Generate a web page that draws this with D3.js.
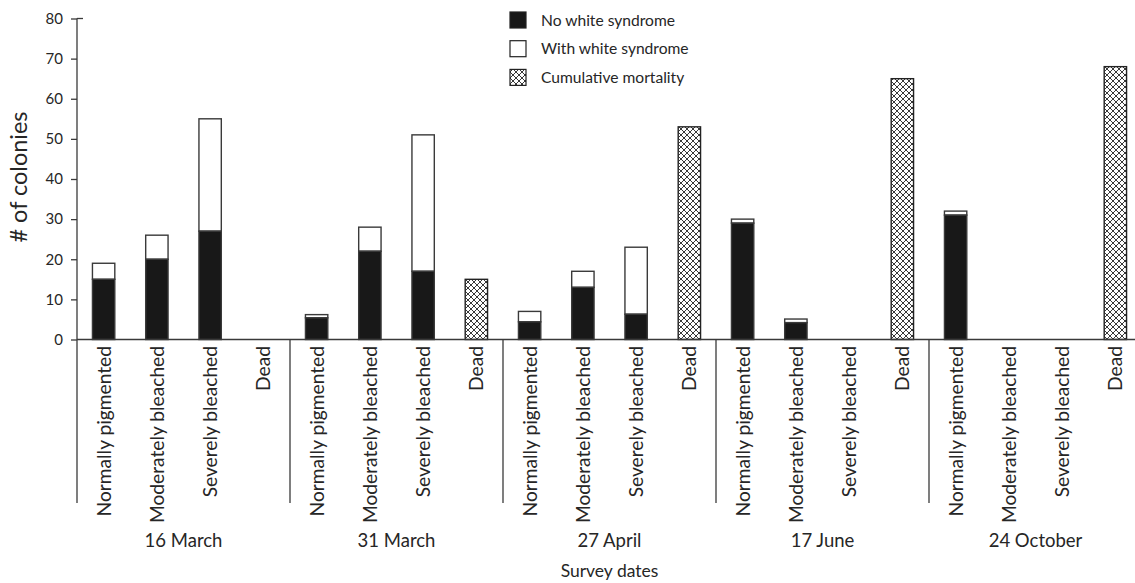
<!DOCTYPE html>
<html><head><meta charset="utf-8">
<script src="https://cdn.jsdelivr.net/npm/d3@7/dist/d3.min.js"></script>
<style>
html,body{margin:0;padding:0;background:#fff;}
svg{display:block;font-family:Lato,"Open Sans",sans-serif;}
</style></head>
<body>
<svg id="chart" width="1135" height="583"></svg>
<script>
const surveyDates = ["16 March", "31 March", "27 April", "17 June", "24 October"];
const conditions = ["Normally pigmented", "Moderately bleached", "Severely bleached", "Dead"];
// per survey date, per condition
const noWhiteSyndrome = [[15, 20, 27, 0], [5.4, 22, 17, 0], [4.4, 13, 6.3, 0], [29, 4.2, 0, 0], [31, 0, 0, 0]];
const withWhiteSyndrome = [[4, 6, 28, 0], [0.8, 6, 34, 0], [2.6, 4, 16.7, 0], [1, 0.9, 0, 0], [1, 0, 0, 0]];
const cumulativeMortality = [[0, 0, 0, 0], [0, 0, 0, 15], [0, 0, 0, 53], [0, 0, 0, 65], [0, 0, 0, 68]];
const yTicks = [0, 10, 20, 30, 40, 50, 60, 70, 80];
const legendLabels = ["No white syndrome", "With white syndrome", "Cumulative mortality"];

const svg = d3.select("#chart");
const ink = "#262626", lineCol = "#3a3a3a", barFill = "#181818";
const plotLeft = 77, groupW = 213, plotTop = 18.5, plotBase = 339.5;
const plotRight = plotLeft + groupW * surveyDates.length;

// pattern
const defs = svg.append("defs");
const pat = defs.append("pattern").attr("id", "xhatch").attr("patternUnits", "userSpaceOnUse")
  .attr("width", 6).attr("height", 6);
pat.append("rect").attr("width", 6).attr("height", 6).attr("fill", "#fff");
pat.append("path").attr("d", "M0,0L6,6M6,0L0,6").attr("stroke", "#222").attr("stroke-width", 0.9);

const x0 = d3.scaleBand().domain(surveyDates).range([plotLeft, plotRight]);
const x1 = d3.scaleBand().domain(conditions).range([0, groupW]).paddingInner(0.58).paddingOuter(0.29);
const y = d3.scaleLinear().domain([0, 80]).range([plotBase, plotTop]);

// rows
const rows = [];
surveyDates.forEach((d, i) => conditions.forEach((c, j) => rows.push({
  date: d, cond: c, no: noWhiteSyndrome[i][j], ws: withWhiteSyndrome[i][j], dead: cumulativeMortality[i][j]
})));

const g = svg.append("g");
// bars
rows.forEach(r => {
  const bx = x0(r.date) + x1(r.cond), bw = x1.bandwidth();
  if (r.no + r.ws > 0) {
    if (r.ws > 0) g.append("rect").attr("x", bx).attr("width", bw)
      .attr("y", y(r.no + r.ws)).attr("height", y(r.no) - y(r.no + r.ws))
      .attr("fill", "#fff").attr("stroke", lineCol).attr("stroke-width", 1.4);
    if (r.no > 0) g.append("rect").attr("x", bx).attr("width", bw)
      .attr("y", y(r.no)).attr("height", y(0) - y(r.no))
      .attr("fill", barFill).attr("stroke", lineCol).attr("stroke-width", 1.4);
  }
  if (r.dead > 0) g.append("rect").attr("x", bx).attr("width", bw)
    .attr("y", y(r.dead)).attr("height", y(0) - y(r.dead))
    .attr("fill", "url(#xhatch)").attr("stroke", "#222").attr("stroke-width", 1.4);
});

// y axis
const yAxis = d3.axisLeft(y).tickValues(yTicks).tickSize(6).tickPadding(8).tickFormat(d3.format("d"));
const ya = svg.append("g").attr("transform", `translate(${plotLeft},0)`).call(yAxis);
ya.select(".domain").remove();
ya.selectAll(".tick line").attr("stroke", lineCol).attr("stroke-width", 1.3);
ya.selectAll(".tick text").attr("fill", ink).attr("font-size", 15).attr("font-family", "Lato");
svg.append("line").attr("x1", plotLeft).attr("x2", plotLeft).attr("y1", y(80)).attr("y2", 503)
  .attr("stroke", lineCol).attr("stroke-width", 1.3);
svg.append("line").attr("x1", plotLeft).attr("x2", plotLeft + 6).attr("y1", y(80)).attr("y2", y(80))
  .attr("stroke", lineCol).attr("stroke-width", 1.3);

// x baseline
svg.append("line").attr("x1", plotLeft).attr("x2", plotRight).attr("y1", y(0)).attr("y2", y(0))
  .attr("stroke", lineCol).attr("stroke-width", 1.3);
// group separators
surveyDates.slice(1).forEach(d => {
  svg.append("line").attr("x1", x0(d)).attr("x2", x0(d)).attr("y1", y(0)).attr("y2", 503)
    .attr("stroke", lineCol).attr("stroke-width", 1.3);
});

// category labels
rows.forEach(r => {
  const cx = x0(r.date) + x1(r.cond) + x1.bandwidth() / 2;
  svg.append("text").attr("transform", `translate(${cx + 7},${y(0) + 6.5}) rotate(-90)`)
    .attr("text-anchor", "end").attr("fill", ink).attr("font-size", 19.2)
    .text(r.cond);
});
// date labels
surveyDates.forEach(d => {
  svg.append("text").attr("x", x0(d) + groupW / 2).attr("y", 547).attr("text-anchor", "middle")
    .attr("fill", ink).attr("font-size", 18.5).text(d);
});
svg.append("text").attr("x", (plotLeft + plotRight) / 2).attr("y", 577).attr("text-anchor", "middle")
  .attr("fill", ink).attr("font-size", 17.5).text("Survey dates");
svg.append("text").attr("transform", `translate(27,${177}) rotate(-90)`).attr("text-anchor", "middle")
  .attr("fill", ink).attr("font-size", 23.5).text("# of colonies");

// legend
const fills = [barFill, "#fff", "url(#xhatch)"];
const lg = svg.append("g").attr("transform", "translate(510,12)");
legendLabels.forEach((t, i) => {
  lg.append("rect").attr("x", 0).attr("y", i * 28.7).attr("width", 16).attr("height", 16)
    .attr("fill", fills[i]).attr("stroke", "#222").attr("stroke-width", 1.2);
  lg.append("text").attr("x", 31).attr("y", i * 28.7 + 13.5).attr("fill", ink)
    .attr("font-size", 15.6).text(t);
});
</script>
</body></html>
